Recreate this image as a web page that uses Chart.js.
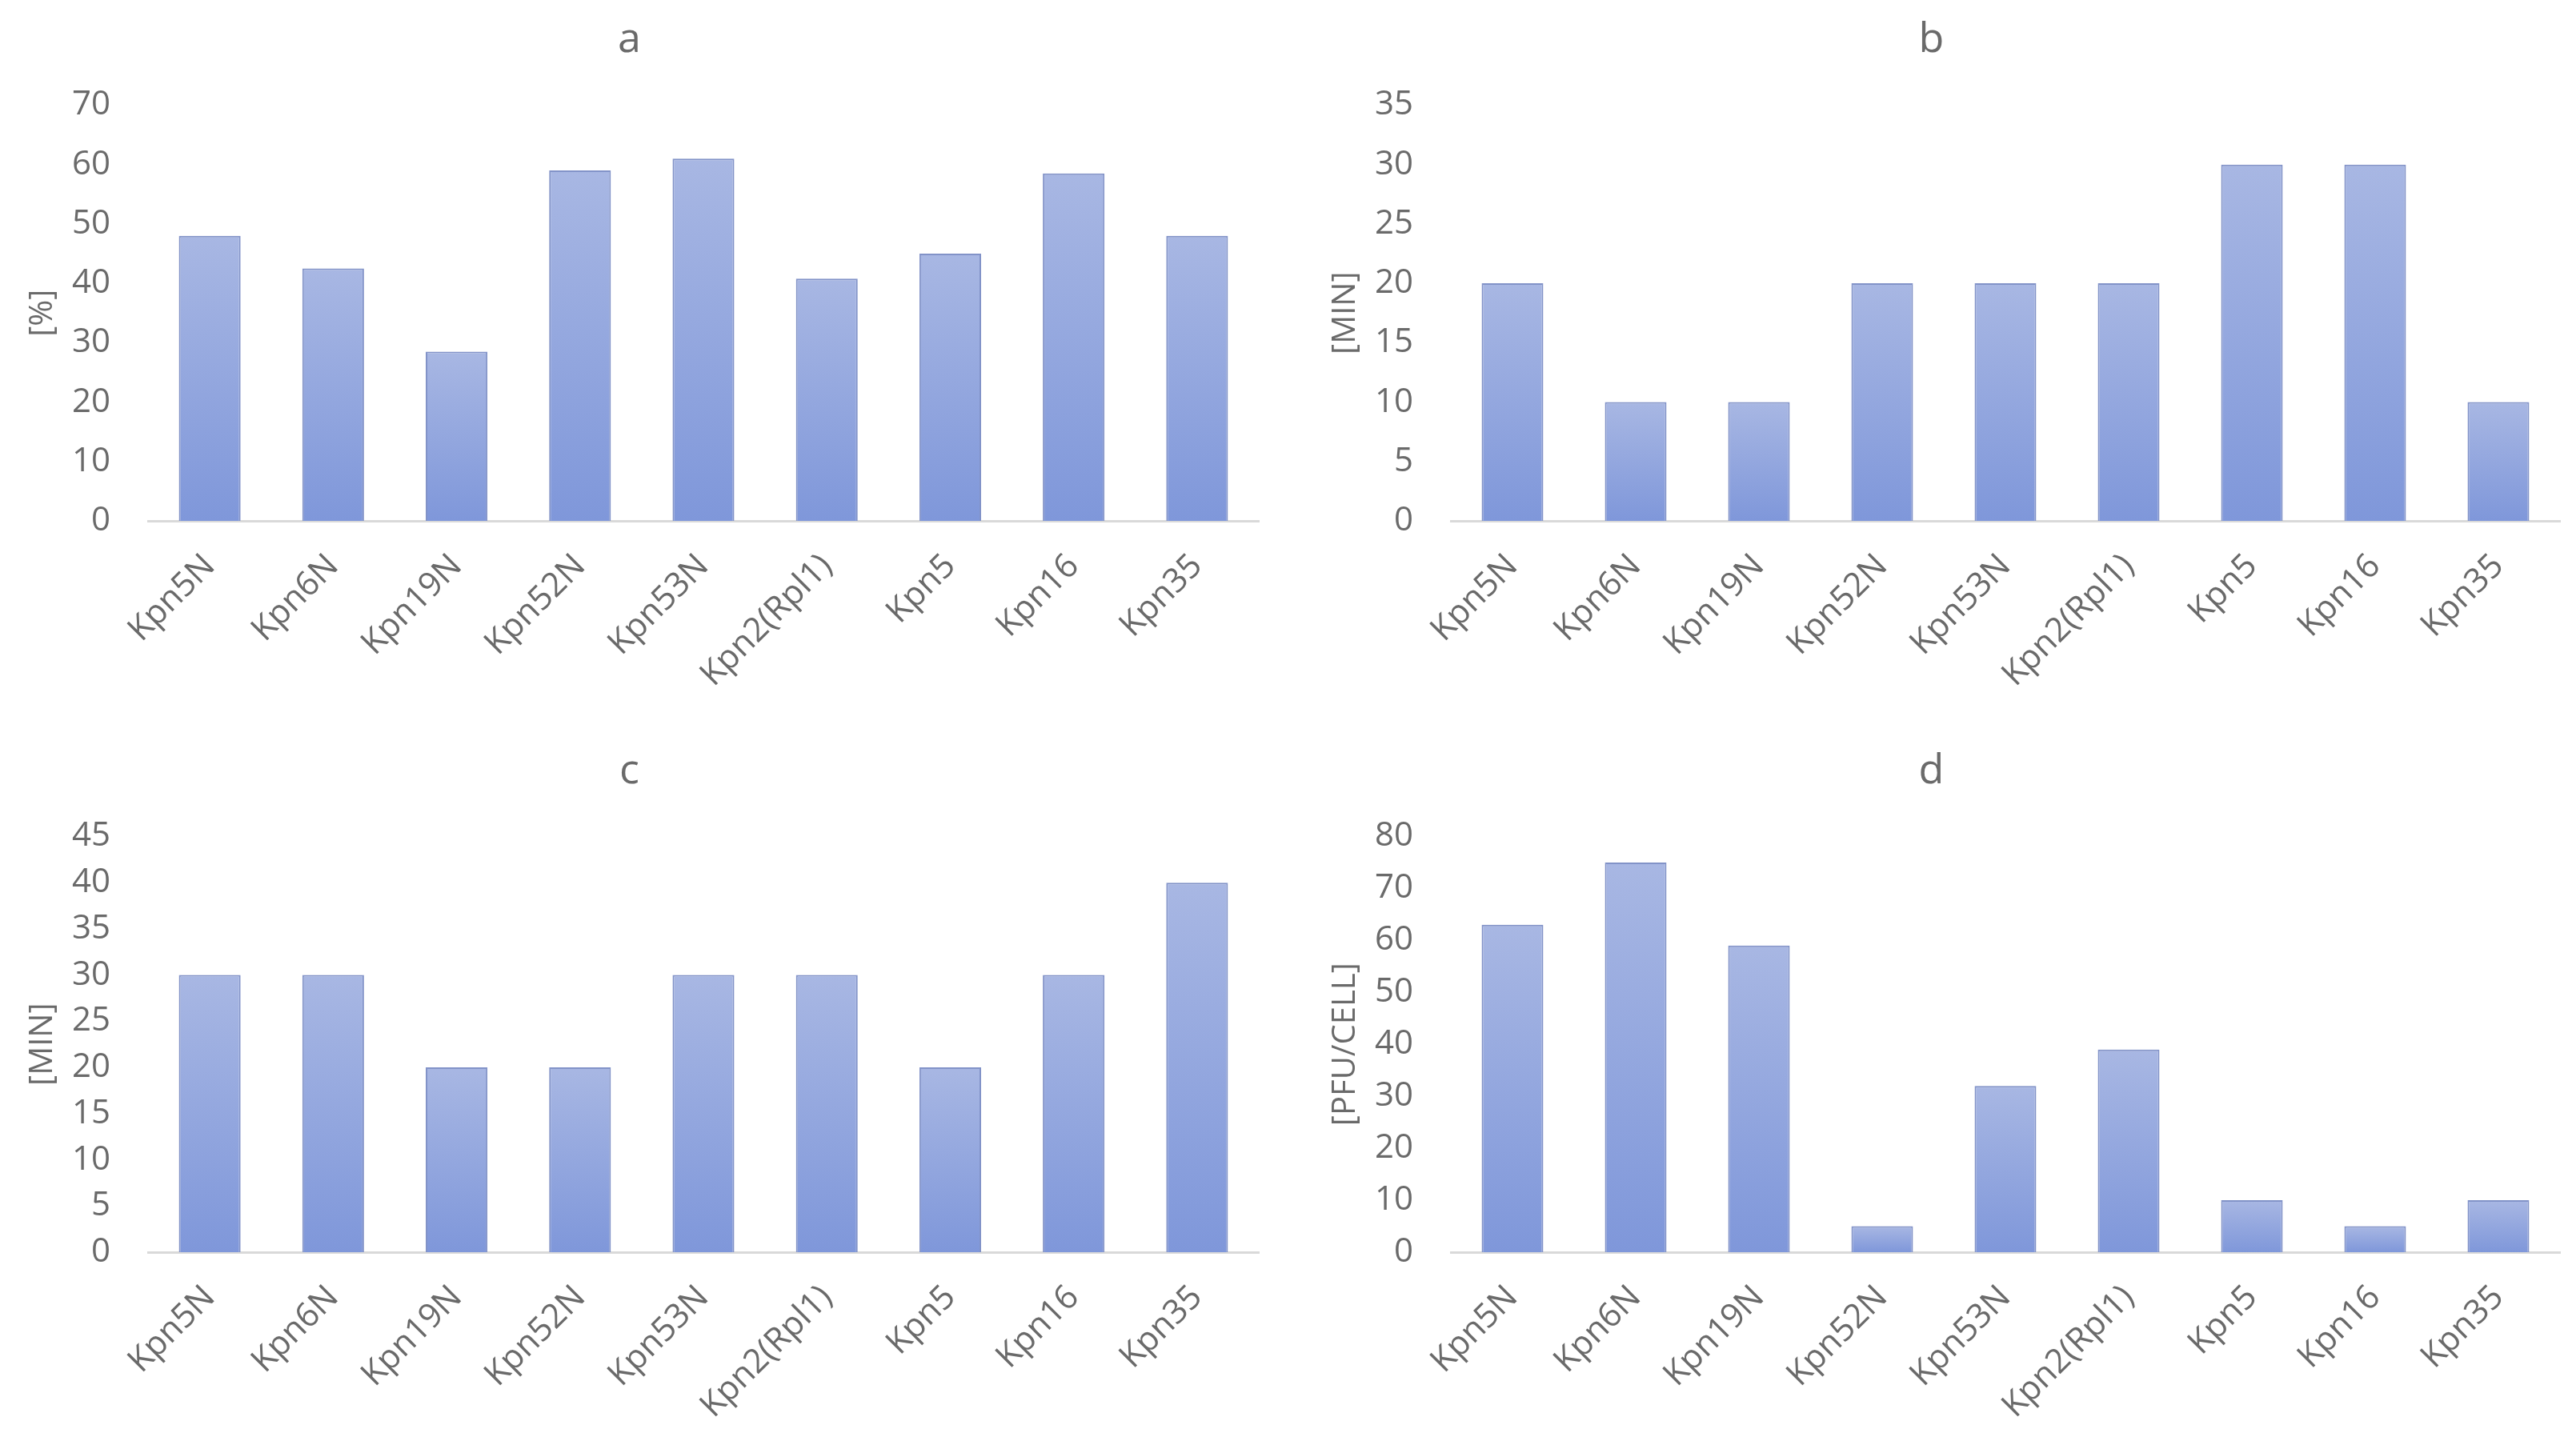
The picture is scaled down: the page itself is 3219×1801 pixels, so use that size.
<!DOCTYPE html>
<html>
<head>
<meta charset="utf-8">
<title>Kpn phages</title>
<script src="https://cdn.jsdelivr.net/npm/chart.js"></script>
<style>
  html, body { margin: 0; padding: 0; background: #fff; }
  body { width: 3219px; height: 1801px; position: relative; overflow: hidden; }
  canvas { position: absolute; }
</style>
</head>
<body>
<canvas id="chartA" width="1609" height="887" style="left:0;top:0"></canvas>
<canvas id="chartB" width="1591" height="887" style="left:1628px;top:0"></canvas>
<canvas id="chartC" width="1609" height="887" style="left:0;top:914px"></canvas>
<canvas id="chartD" width="1591" height="887" style="left:1628px;top:914px"></canvas>
<script>
// data
const categories = ['Kpn5N', 'Kpn6N', 'Kpn19N', 'Kpn52N', 'Kpn53N', 'Kpn2(Rpl1)', 'Kpn5', 'Kpn16', 'Kpn35'];
const valuesA = [48, 42.5, 28.5, 59, 61, 40.8, 45, 58.5, 48];
const valuesB = [20, 10, 10, 20, 20, 20, 30, 30, 10];
const valuesC = [30, 30, 20, 20, 30, 30, 20, 30, 40];
const valuesD = [63, 75, 59, 5, 32, 39, 10, 5, 10];
const panelTitles = ['a', 'b', 'c', 'd'];
const yTitles = ['[%]', '[MIN]', '[MIN]', '[PFU/CELL]'];
const yMax = [70, 35, 45, 80];
const yStep = [10, 5, 5, 10];

const textGray = '#6a6a6a';
const fontFamily = "'Open Sans', 'Liberation Sans', sans-serif";

// each bar gets its own vertical gradient, darker at the base
function barFill(ctx) {
    const chart = ctx.chart;
    const y = chart.scales.y;
    if (!chart.chartArea || !y || ctx.raw == null) return '#94a6db';
    const top = y.getPixelForValue(ctx.raw);
    const base = y.getPixelForValue(0);
    if (!isFinite(top) || !isFinite(base) || top === base) return '#94a6db';
    const g = chart.ctx.createLinearGradient(0, base, 0, top);
    g.addColorStop(0, '#7f97da');
    g.addColorStop(1, '#a8b7e3');
    return g;
}

function makeChart(id, values, i, padRight) {
    return new Chart(document.getElementById(id).getContext('2d'), {
        type: 'bar',
        data: {
            labels: categories,
            datasets: [{
                data: values,
                backgroundColor: barFill,
                borderColor: '#8293c8',
                borderWidth: 2,
                barPercentage: 0.5,
                categoryPercentage: 1.0
            }]
        },
        options: {
            responsive: false,
            animation: false,
            layout: { padding: { left: 0, right: padRight, top: 0, bottom: 0 } },
            plugins: {
                legend: { display: false },
                tooltip: { enabled: false },
                title: {
                    display: true,
                    text: panelTitles[i],
                    color: textGray,
                    font: { family: fontFamily, size: 52, weight: 'normal' },
                    padding: { top: 19, bottom: 50 }
                }
            },
            scales: {
                x: {
                    grid: { display: false, drawTicks: false },
                    border: { display: true, color: '#d9d9d9', width: 3 },
                    ticks: {
                        color: textGray,
                        font: { family: fontFamily, size: 42 },
                        minRotation: 45,
                        maxRotation: 45,
                        padding: 32,
                        autoSkip: false
                    },
                    afterFit: (s) => { s.height = 236; }
                },
                y: {
                    min: 0,
                    max: yMax[i],
                    grid: { display: false, drawTicks: false },
                    border: { display: false },
                    ticks: {
                        stepSize: yStep[i],
                        color: textGray,
                        font: { family: fontFamily, size: 42 },
                        padding: 47
                    },
                    title: {
                        display: true,
                        text: yTitles[i],
                        color: textGray,
                        font: { family: fontFamily, size: 40 },
                        padding: { top: 30, bottom: 0 }
                    },
                    afterFit: (s) => { s.width = 185; }
                }
            }
        }
    });
}

makeChart('chartA', valuesA, 0, 36);
makeChart('chartB', valuesB, 1, 20);
makeChart('chartC', valuesC, 2, 36);
makeChart('chartD', valuesD, 3, 20);
</script>
</body>
</html>
